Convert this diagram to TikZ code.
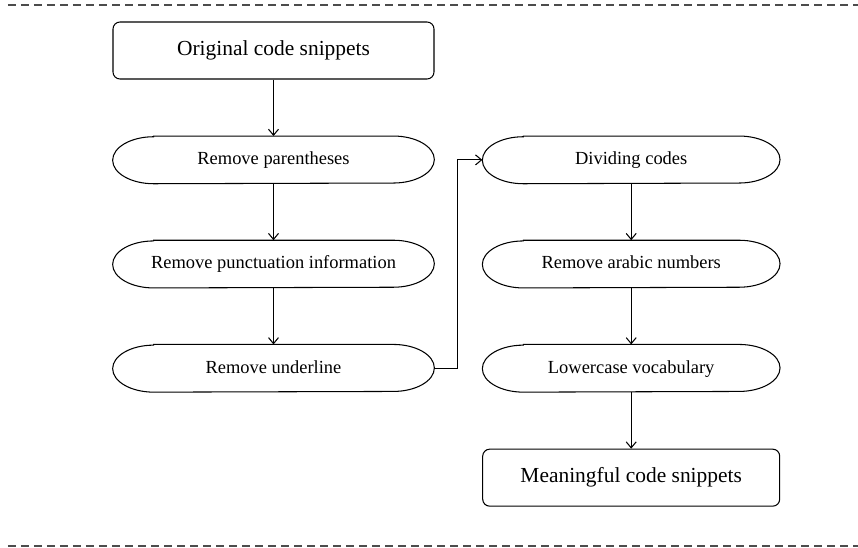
\documentclass[tikz,border=0pt]{standalone}
\usepackage{fontspec}
\setmainfont{Liberation Serif}
\usetikzlibrary{arrows.meta,positioning}

\begin{document}
\begin{tikzpicture}[node distance=1.13cm and 0.96cm, font=\fontsize{10.5}{12}\selectfont,
  box/.style={draw, rounded corners=0.14cm, line width=0.6pt, minimum height=1.14cm, text height=1.6ex, text depth=0.4ex, font=\fontsize{12.2}{14}\selectfont},
  pill/.style={minimum height=0.94cm, inner sep=0pt, text height=1.6ex, text depth=0.4ex},
  arr/.style={-{Straight Barb[length=1.2mm,width=2mm]}, line width=0.6pt},
  frame/.style={dash pattern=on 0.16cm off 0.1cm, draw=black!70, line width=0.6pt}]
  \useasboundingbox (-5.47,1.01) rectangle (11.69,-9.95);
  \draw[frame] (-5.31,0.91) -- (11.69,0.91);
  \draw[frame] (-5.31,-9.91) -- (11.69,-9.91);
  \node[box, minimum width=6.42cm] (orig) {Original code snippets};
  \node[pill, minimum width=6.42cm, below=of orig] (paren) {Remove parentheses};
  \node[pill, minimum width=6.42cm, below=of paren] (punct) {Remove punctuation information};
  \node[pill, minimum width=6.42cm, below=of punct] (under) {Remove underline};
  \node[pill, minimum width=5.94cm, right=of paren] (divide) {Dividing codes};
  \node[pill, minimum width=5.94cm, below=of divide] (arabic) {Remove arabic numbers};
  \node[pill, minimum width=5.94cm, below=of arabic] (lower) {Lowercase vocabulary};
  \node[box, minimum width=5.94cm, below=of lower] (mean) {Meaningful code snippets};
  % pill outlines
  \foreach \n in {paren,punct,under,divide,arabic,lower}
    \draw[line width=0.6pt] ([xshift=0.82cm]\n.north west) -- ([xshift=-0.82cm]\n.north east)
      arc[start angle=90, end angle=-90, x radius=0.82cm, y radius=0.47cm]
      -- ([xshift=0.82cm]\n.south west)
      arc[start angle=270, end angle=90, x radius=0.82cm, y radius=0.47cm] -- cycle;
  \draw[arr] (orig) -- (paren);
  \draw[arr] (paren) -- (punct);
  \draw[arr] (punct) -- (under);
  \draw[arr] (under.east) -- ++(0.46,0) |- (divide.west);
  \draw[arr] (divide) -- (arabic);
  \draw[arr] (arabic) -- (lower);
  \draw[arr] (lower) -- (mean);
\end{tikzpicture}
\end{document}
